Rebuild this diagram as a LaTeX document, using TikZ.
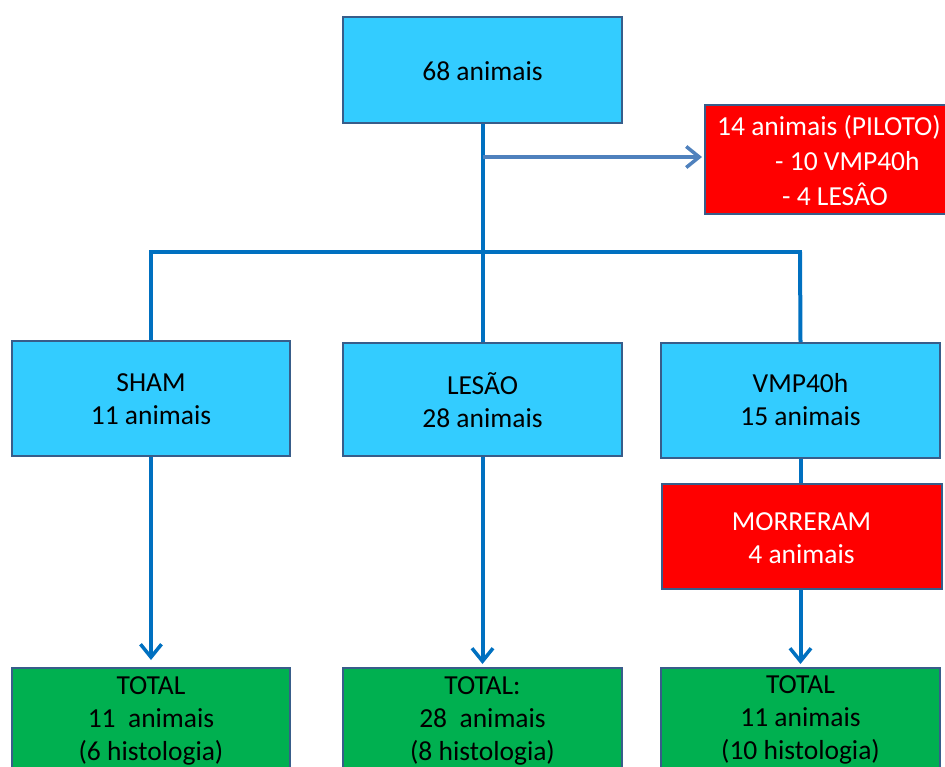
\documentclass[tikz,border=0pt]{standalone}
\usepackage{fontspec}
\setmainfont{Carlito}
\usetikzlibrary{arrows.meta}
\definecolor{boxblue}{HTML}{33CCFF}
\definecolor{boxred}{HTML}{FF0000}
\definecolor{boxgreen}{HTML}{00B050}
\definecolor{edge}{HTML}{385D8A}
\definecolor{linkblue}{HTML}{0070C0}
\definecolor{arrowgray}{HTML}{4F81BD}
\tikzset{
  box/.style={draw=edge, line width=2pt, rectangle, inner sep=0pt},
  bluebox/.style={box, fill=boxblue},
  redbox/.style={box, fill=boxred},
  greenbox/.style={box, fill=boxgreen},
  txt/.style={align=center, inner sep=0pt, font=\fontsize{27.5}{33}\selectfont},
  link/.style={draw=linkblue, line width=4pt},
  linkarrow/.style={link, -{Straight Barb[length=13pt,width=21pt,line width=3.5pt]}},
  sidearrow/.style={draw=arrowgray, line width=4pt, -{Straight Barb[length=13pt,width=21pt,line width=3.5pt]}},
}
\begin{document}
\begin{tikzpicture}[x=1pt,y=-1pt]
\useasboundingbox (0,0) rectangle (945,766);
\clip (0,0) rectangle (945,766);
% top
\node[bluebox, minimum width=279, minimum height=106] (top) at (482.5,70) {};
\node[txt] (toptxt) at (482.5,71) {68 animais};
% pilot box
\node[redbox, anchor=north west, minimum width=260, minimum height=109] (pilot) at (704,104) {};
\node[txt, text=white, anchor=west] (p1) at (717,127) {14 animais (PILOTO)};
\node[txt, text=white, anchor=west] (p2) at (775,161) {- 10 VMP40h};
\node[txt, text=white, anchor=west] (p3) at (782,194) {- 4 LESÂO};
% middle
\node[bluebox, minimum width=278, minimum height=115] (sham) at (151,398.5) {};
\node[txt] (shamtxt) at (151,399) {SHAM\\11 animais};
\node[bluebox, minimum width=279, minimum height=113] (les) at (482.5,399.5) {};
\node[txt] (lestxt) at (482.5,400) {LESÃO\\28 animais};
\node[bluebox, minimum width=279, minimum height=115] (vmp) at (800.5,400.5) {};
\node[txt] (vmptxt) at (800.5,400) {VMP40h\\15 animais};
% died
\node[redbox, minimum width=280, minimum height=105] (died) at (801.5,536.5) {};
\node[txt, text=white] (diedtxt) at (801.5,538) {MORRERAM\\4 animais};
% bottom
\node[greenbox, anchor=north, minimum width=278, minimum height=140] (t1) at (151,667) {};
\node[txt] (t1txt) at (151,721) {TOTAL\\11~~animais\\(6 histologia)};
\node[greenbox, anchor=north, minimum width=279, minimum height=140] (t2) at (482.5,667) {};
\node[txt] (t2txt) at (482.5,721) {TOTAL:\\28~~animais\\(8 histologia)};
\node[greenbox, anchor=north, minimum width=279, minimum height=140] (t3) at (800.5,667) {};
\node[txt] (t3txt) at (800.5,720) {TOTAL\\11 animais\\(10 histologia)};
% connectors
\coordinate (hl) at (151,252);
\coordinate (hr) at (800,252);
\coordinate (side) at (482.5,157);
\draw[link] (top.south) -- (les.north);
\draw[link] ([xshift=-2pt]hl) -- ([xshift=2pt]hr);
\draw[link] (hl) -- (sham.north);
\draw[link] (hr) -- (vmp.north);
\draw[sidearrow] (side) -- ([xshift=-2pt]pilot.west |- side);
\draw[link] (vmp.south) -- (vmp.south |- died.north);
\draw[linkarrow] (sham.south) -- ([yshift=7pt]t1.north);
\draw[linkarrow] (les.south) -- ([yshift=3pt]t2.north);
\draw[linkarrow] (died.south -| t3.north) -- ([yshift=3pt]t3.north);
\end{tikzpicture}
\end{document}
